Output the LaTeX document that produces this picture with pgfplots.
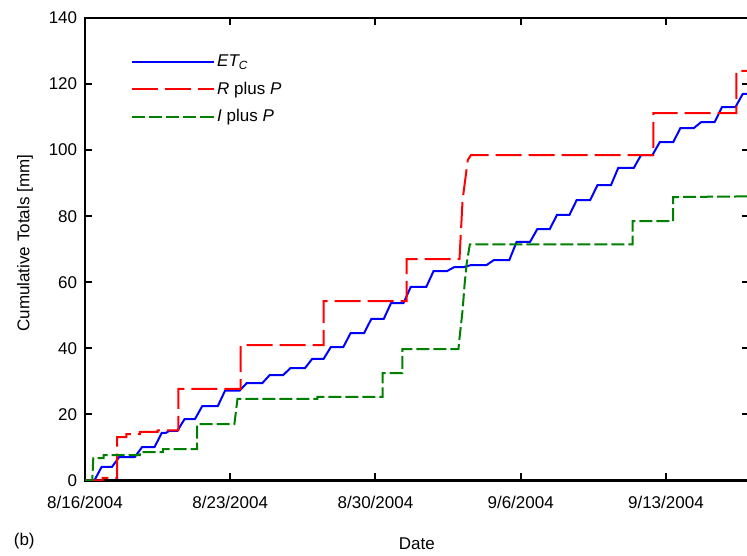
\documentclass[border=0pt]{standalone}
\usepackage{fontspec}
\setmainfont{Liberation Sans}
\usepackage{pgfplots}
\pgfplotsset{compat=1.18}
\definecolor{cgreen}{RGB}{0,128,0}
\begin{document}
\fontsize{17}{20}\selectfont
\begin{tikzpicture}
\begin{axis}[
  at={(85pt,75.5pt)}, anchor=south west,
  scale only axis, width=663.5pt, height=462.5pt,
  xmin=0, xmax=31.98, ymin=0, ymax=140,
  xtick={0,7,14,21,28},
  xticklabels={8/16/2004,8/23/2004,8/30/2004,9/6/2004,9/13/2004},
  ytick={0,20,...,140},
  /pgf/number format/assume math mode=true,
  tick align=inside,
  major tick length=7pt,
  every tick/.style={black, line width=2pt},
  axis line style={line width=2.5pt},
  xticklabel style={yshift=-10pt},
  yticklabel style={xshift=-2pt},
  xlabel={Date}, ylabel={Cumulative Totals [mm]},
  every axis x label/.style={at={(axis description cs:0.5,0)}, anchor=base, yshift=-69.5pt},
  every axis y label/.style={at={(axis description cs:0,0.5)}, xshift=-60pt, yshift=6pt, rotate=90, anchor=center},
  legend style={draw=none, fill=none, at={(axis description cs:0,1)}, anchor=north west, xshift=43pt, yshift=-33pt, row sep=8.5pt, nodes={inner sep=2pt}},
  legend cell align=left,
  legend image code/.code={\draw[#1] (0pt,0pt) -- (69pt,0pt); \path (69pt,0pt) -- (82pt,0pt);},
]
\addplot[blue, line width=2pt] coordinates {
(0,0) (0.45,0) (0.8,4.1) (1.3,4.1) (1.65,7.1) (2.4,7.1) (2.75,10.1) (3.35,10.1) (3.7,14.4)
(3.9,14.4) (4.05,15) (4.45,15) (4.8,18.6) (5.3,18.6) (5.65,22.5) (6.4,22.5) (6.75,27.2)
(7.45,27.2) (7.8,29.5) (8.55,29.5) (8.9,31.9) (9.55,31.9) (9.9,34) (10.6,34) (10.95,36.8)
(11.5,36.8) (11.85,40.4) (12.45,40.4) (12.8,44.6) (13.45,44.6) (13.8,48.9) (14.4,48.9)
(14.75,53.7) (15.35,53.7) (15.7,58.6) (16.45,58.6) (16.8,63.4) (17.45,63.4) (17.8,64.6)
(18.25,64.6) (18.6,65.2) (19.35,65.2) (19.7,66.7) (20.45,66.7) (20.8,72.2) (21.45,72.2)
(21.8,76.1) (22.4,76.1) (22.75,80.4) (23.35,80.4) (23.7,84.9) (24.35,84.9) (24.7,89.4)
(25.35,89.4) (25.7,94.6) (26.45,94.6) (26.8,98.5) (27.35,98.5) (27.7,102.4) (28.35,102.4)
(28.7,106.7) (29.35,106.7) (29.7,108.5) (30.35,108.5) (30.7,113) (31.35,113) (31.7,117) (31.98,117)
};
\addlegendentry{\textit{ET\textsubscript{C}}}
\addplot[red, line width=2pt, dash pattern=on 26pt off 7pt] coordinates {
(0,0) (0.85,0) (0.85,0.8) (1.55,0.8) (1.55,13.1) (2.0,13.1) (2.0,14) (2.65,14) (2.65,14.7)
(3.5,14.7) (3.5,15.2) (4.5,15.2) (4.5,27.7) (7.5,27.7) (7.5,41) (11.5,41) (11.5,54.3)
(15.5,54.3) (15.5,67) (18.05,67) (18.2,85) (18.45,97) (18.6,98.5) (27.4,98.5) (27.4,111.2)
(31.4,111.2) (31.4,124) (31.98,124)
};
\addlegendentry{\textit{R} plus \textit{P}}
\addplot[cgreen, line width=2pt, dash pattern=on 13pt off 4pt] coordinates {
(0,0) (0.35,0) (0.4,6.8) (0.9,6.8) (0.9,7.7) (2.65,7.7) (2.65,8.6) (3.75,8.6) (3.75,9.5)
(5.4,9.5) (5.4,17.1) (7.2,17.1) (7.35,24.7) (11.2,24.7) (11.2,25.3) (14.35,25.3) (14.35,32.5)
(15.3,32.5) (15.3,39.8) (18.0,39.8) (18.05,43) (18.2,51.6) (18.3,59.7) (18.4,65.8) (18.55,71.5)
(26.4,71.5) (26.4,78.5) (28.35,78.5) (28.35,85.8) (31.98,86)
};
\addlegendentry{\textit{I} plus \textit{P}}
\end{axis}
\node[anchor=base west] at (8pt,10pt) {(b)};
\pgfresetboundingbox
\useasboundingbox (0,0) rectangle (747pt,556pt);
\end{tikzpicture}
\end{document}
